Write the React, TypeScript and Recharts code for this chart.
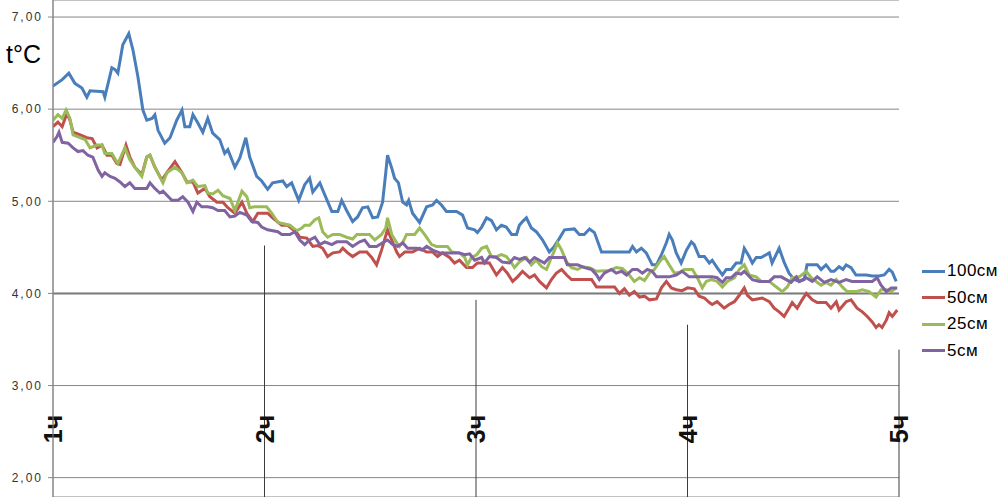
import React from "react";
import { LineChart, Line, XAxis, YAxis, CartesianGrid, ReferenceLine } from "recharts";

// --- Data (time in minutes from the 1ч mark, temperature in °C) ---

const SERIES_NAMES = ["100см", "50см", "25см", "5см"];
const SERIES_COLORS = ["#4A7EBB", "#C0504D", "#9BBB59", "#8064A2"];

const HOUR_TICKS = [0, 60, 120, 180, 240];
const HOUR_LABELS = ["1ч", "2ч", "3ч", "4ч", "5ч"];
// where each hand-drawn hour marker starts (°C level); 1ч is the axis itself
const HOUR_MARK_TOPS = [7.185, 4.52, 3.93, 3.66, 3.39];

const Y_TICKS = [2, 3, 4, 5, 6, 7];
const Y_MIN = 1.79;
const Y_MAX = 7.185;

const BLUE_T = [0,2.6,4.5,6.2,8.2,9.6,10.5,14.2,14.7,16.7,17.6,18.4,19.8,21.5,22.7,24.1,25.5,26.6,28.1,28.9,29.8,31.7,33.2,35.1,36.6,37.4,38.8,39.7,41.1,42.5,43.9,45.3,47.3,48.7,49.6,51.6,53.0,54.7,55.8,57.8,59.2,60.9,62.3,65.2,66.3,67.7,69.7,71.4,72.8,73.7,75.7,77.1,79.1,80.8,81.9,83.3,85.0,86.4,87.8,89.3,90.7,92.1,93.5,94.4,94.9,96.1,96.9,98.0,99.2,100.3,100.9,102.0,104.0,106.0,107.7,108.8,110.2,111.6,114.5,116.2,117.6,119.6,120.4,121.6,123.0,124.4,125.8,127.2,128.6,130.1,131.5,132.3,133.2,134.3,135.7,137.1,138.9,140.8,142.2,143.7,145.1,147.9,149.3,150.7,152.2,153.6,155.6,157.0,163.5,164.4,165.5,166.9,168.3,170.0,171.2,172.6,174.0,174.8,175.7,176.8,178.2,179.7,181.1,181.9,183.3,184.8,186.2,187.0,188.4,189.9,191.0,192.4,193.8,195.2,196.1,197.5,198.4,199.5,200.9,202.3,203.2,204.0,206.0,207.4,208.8,210.3,211.7,213.1,213.9,216.8,217.9,219.3,220.7,221.6,223.0,224.1,225.0,226.4,227.8,230.7,232.4,234.3,235.8,237.2,238.1,239.2];
const BLUE_V = [6.25,6.32,6.39,6.28,6.23,6.13,6.20,6.19,6.13,6.45,6.43,6.39,6.70,6.82,6.64,6.35,5.99,5.88,5.90,5.94,5.77,5.63,5.69,5.88,5.99,5.81,5.81,5.94,5.85,5.75,5.90,5.74,5.67,5.52,5.56,5.37,5.47,5.69,5.48,5.27,5.22,5.13,5.20,5.22,5.16,5.20,5.01,5.18,5.25,5.10,5.20,5.07,4.89,4.89,5.01,4.90,4.78,4.83,4.93,4.94,4.82,4.83,4.99,5.31,5.50,5.36,5.25,5.20,4.99,4.96,5.01,4.87,4.77,4.94,4.96,5.01,4.96,4.89,4.89,4.85,4.71,4.69,4.66,4.72,4.82,4.79,4.69,4.74,4.72,4.64,4.64,4.74,4.78,4.82,4.71,4.67,4.58,4.45,4.51,4.60,4.69,4.70,4.64,4.64,4.70,4.66,4.45,4.45,4.45,4.51,4.45,4.49,4.44,4.31,4.31,4.42,4.55,4.64,4.58,4.44,4.33,4.47,4.56,4.53,4.40,4.40,4.33,4.36,4.28,4.20,4.26,4.26,4.33,4.33,4.49,4.40,4.33,4.39,4.39,4.42,4.44,4.33,4.49,4.34,4.22,4.15,4.13,4.15,4.31,4.31,4.26,4.31,4.24,4.24,4.29,4.26,4.31,4.28,4.20,4.20,4.19,4.19,4.20,4.26,4.23,4.13];

const RED_T = [0,1.4,2.6,4.0,4.8,5.7,7.7,9.6,11.1,12.5,13.9,15.3,16.7,18.1,19.0,20.7,21.8,23.2,25.2,26.6,27.5,28.9,30.9,32.3,34.6,36.6,38.0,39.7,41.1,43.1,44.5,46.5,48.2,49.6,51.6,53.6,55.0,56.7,58.1,60.9,62.3,64.9,66.6,69.1,70.0,72.0,73.7,75.1,76.5,77.9,79.4,81.3,82.2,83.6,85.0,87.0,89.0,90.4,91.8,93.2,94.9,96.1,97.5,98.3,99.8,102.0,104.0,106.0,107.7,109.1,110.5,112.5,113.9,115.3,117.3,119.0,120.4,121.9,123.8,125.8,127.5,128.9,130.4,131.8,133.2,135.2,136.6,138.0,140.0,141.4,142.8,144.3,145.7,147.1,152.8,154.2,159.3,160.7,162.1,163.5,164.9,166.4,167.8,169.2,171.2,172.6,174.0,175.4,176.8,178.5,180.0,181.9,183.3,184.8,186.2,187.0,188.4,190.4,191.8,193.3,194.7,196.1,197.0,198.4,199.8,201.2,203.2,204.6,206.0,207.4,208.8,209.7,211.1,212.5,213.7,215.4,216.8,219.3,220.7,222.2,223.0,225.0,226.4,228.1,229.6,231.0,232.4,233.5,234.3,235.2,236.4,237.2,238.1,239.5];
const RED_V = [5.81,5.86,5.81,5.96,5.88,5.75,5.72,5.69,5.68,5.58,5.61,5.50,5.50,5.41,5.40,5.61,5.48,5.37,5.29,5.48,5.50,5.37,5.23,5.31,5.43,5.31,5.21,5.21,5.09,5.14,5.05,4.99,4.99,4.93,4.87,4.99,4.87,4.78,4.87,4.87,4.82,4.74,4.74,4.66,4.61,4.60,4.51,4.52,4.49,4.40,4.44,4.45,4.49,4.44,4.40,4.45,4.45,4.39,4.31,4.47,4.69,4.58,4.45,4.40,4.45,4.45,4.49,4.45,4.45,4.40,4.44,4.39,4.33,4.36,4.28,4.28,4.33,4.33,4.33,4.20,4.28,4.22,4.13,4.18,4.24,4.17,4.20,4.13,4.06,4.15,4.22,4.26,4.20,4.15,4.15,4.07,4.07,4.00,4.05,3.98,4.02,3.96,3.97,3.93,3.94,4.06,4.13,4.06,4.04,4.03,4.06,4.05,3.97,3.95,3.90,3.88,3.91,3.84,3.88,3.91,3.98,4.06,3.98,3.93,3.94,3.95,3.91,3.84,3.80,3.75,3.84,3.90,3.84,3.93,4.00,3.93,3.90,3.90,3.84,3.91,3.82,3.91,3.93,3.84,3.80,3.75,3.69,3.63,3.66,3.63,3.71,3.79,3.75,3.82];

const GREEN_T = [0,1.4,2.6,3.7,4.8,5.7,7.7,9.1,10.5,12.5,13.9,14.7,16.7,18.4,20.4,21.8,23.2,25.2,26.6,27.5,28.9,31.2,32.3,34.6,36.6,38.0,39.7,41.1,43.1,43.9,45.3,46.8,48.2,50.2,51.6,53.6,55.0,55.8,57.2,59.5,60.6,62.1,63.8,67.2,69.1,70.6,71.4,72.8,74.3,75.4,76.5,77.9,79.4,81.3,83.3,85.0,86.2,88.4,89.8,91.3,93.2,94.4,94.9,96.1,97.5,98.3,99.2,100.3,102.6,104.0,105.4,107.4,108.8,111.9,113.1,115.3,116.8,117.6,118.7,120.2,121.6,123.0,124.4,125.8,127.2,128.6,130.1,130.9,132.3,134.3,135.7,137.1,138.6,140.0,141.4,142.3,143.1,144.3,145.7,147.1,148.8,150.2,152.2,154.2,157.9,159.8,161.5,163.5,164.9,166.4,167.8,169.2,170.6,172.0,173.4,174.8,176.3,177.7,179.1,181.4,182.8,184.2,185.3,186.8,188.4,189.9,191.3,193.3,194.7,196.1,197.5,199.5,200.9,203.2,205.2,206.9,208.3,209.7,211.7,213.7,215.1,216.5,217.9,219.3,220.7,222.2,223.9,225.3,227.8,229.6,231.5,233.5,234.9,236.4,237.8,239.2];
const GREEN_V = [5.88,5.94,5.90,5.99,5.90,5.72,5.69,5.67,5.58,5.61,5.61,5.52,5.52,5.41,5.58,5.45,5.37,5.27,5.48,5.50,5.37,5.20,5.31,5.37,5.31,5.20,5.23,5.16,5.17,5.09,5.08,5.12,5.06,5.03,4.90,5.11,5.05,4.93,4.94,4.94,4.94,4.87,4.77,4.74,4.68,4.71,4.74,4.74,4.80,4.82,4.67,4.61,4.64,4.64,4.61,4.59,4.64,4.64,4.64,4.58,4.64,4.71,4.82,4.64,4.55,4.51,4.55,4.64,4.64,4.71,4.64,4.53,4.51,4.51,4.45,4.44,4.39,4.31,4.39,4.42,4.49,4.51,4.40,4.40,4.42,4.40,4.33,4.28,4.34,4.39,4.31,4.36,4.29,4.26,4.39,4.47,4.55,4.47,4.34,4.28,4.26,4.29,4.28,4.24,4.25,4.28,4.27,4.20,4.13,4.17,4.14,4.22,4.26,4.34,4.40,4.31,4.22,4.23,4.26,4.26,4.17,4.06,4.13,4.15,4.13,4.07,4.13,4.17,4.26,4.31,4.20,4.18,4.13,4.13,4.07,4.02,4.07,4.17,4.18,4.24,4.17,4.13,4.09,4.12,4.09,4.15,4.07,4.02,4.02,4.04,4.02,3.96,4.04,4.04,4.02,4.06];

const PURPLE_T = [0,1.1,1.7,2.6,4.3,5.7,7.1,8.5,9.9,11.3,12.8,13.9,14.7,16.2,17.6,19.0,20.4,21.8,23.2,26.6,27.5,28.9,30.3,31.2,33.7,35.4,36.8,38.3,39.7,40.8,42.2,43.9,45.3,46.8,48.7,50.2,51.6,53.0,55.0,56.4,58.1,59.2,60.9,63.8,64.9,67.2,68.6,70.0,71.4,72.8,74.3,75.7,77.1,79.1,80.5,83.3,85.0,87.0,88.4,89.8,91.8,93.5,94.9,96.4,97.8,99.2,100.6,103.2,104.6,106.0,107.7,109.7,115.3,116.8,118.2,119.6,121.6,122.4,123.8,125.8,127.5,129.5,130.9,132.3,133.8,135.2,136.6,138.0,139.4,140.8,145.1,145.9,148.8,150.8,152.8,154.2,155.0,156.4,158.4,159.8,161.3,162.7,164.4,165.8,167.2,168.6,170.0,171.2,174.8,176.8,178.5,180.5,187.0,188.4,189.9,191.0,192.4,193.8,195.2,196.1,198.4,200.4,203.2,204.6,206.6,208.0,209.4,210.9,211.7,213.7,215.4,216.8,218.8,220.7,223.0,225.0,226.7,230.7,232.4,233.8,234.9,236.4,237.8,239.5];
const PURPLE_V = [5.64,5.70,5.75,5.64,5.63,5.58,5.54,5.55,5.50,5.48,5.34,5.27,5.31,5.27,5.25,5.21,5.16,5.20,5.14,5.14,5.20,5.14,5.09,5.11,5.01,5.01,5.05,4.99,4.89,4.99,4.94,4.94,4.93,4.90,4.90,4.83,4.84,4.88,4.85,4.78,4.77,4.72,4.69,4.67,4.64,4.64,4.67,4.58,4.53,4.58,4.61,4.53,4.56,4.53,4.56,4.56,4.51,4.56,4.58,4.51,4.51,4.55,4.58,4.53,4.51,4.55,4.49,4.49,4.47,4.51,4.47,4.44,4.44,4.42,4.43,4.36,4.39,4.33,4.40,4.39,4.34,4.33,4.39,4.37,4.39,4.34,4.39,4.36,4.33,4.39,4.39,4.31,4.31,4.28,4.26,4.20,4.15,4.22,4.26,4.22,4.24,4.20,4.26,4.26,4.22,4.26,4.24,4.18,4.18,4.20,4.24,4.18,4.18,4.17,4.12,4.17,4.17,4.22,4.21,4.24,4.15,4.13,4.13,4.18,4.18,4.15,4.12,4.18,4.13,4.17,4.13,4.18,4.12,4.15,4.12,4.15,4.13,4.13,4.13,4.17,4.09,4.02,4.06,4.06];

const SERIES_T = [BLUE_T, RED_T, GREEN_T, PURPLE_T];
const SERIES_V = [BLUE_V, RED_V, GREEN_V, PURPLE_V];


// --- Constants ---

const WIDTH = 997;
const HEIGHT = 497;
const FONT = "'Liberation Sans', Arial, sans-serif";
const GRID_COLOR = "#868686";
const MARK_COLOR = "#3c3c3c";
const HOUR_LABEL_Y = 429;


function toPoints(ts: number[], vs: number[])
{
    return ts.map((t, i) => ({ t, v: vs[i] }));
}

function formatTemp(v: number)
{
    return v.toFixed(2).replace(".", ",");
}


// --- Hour labels (rotated, near the bottom edge) ---

function renderHourLabel(text: string)
{
    return (props: any) =>
    {
        const x = props.viewBox?.x ?? 0;
        return (
            <text
                transform={`translate(${x},${HOUR_LABEL_Y}) rotate(-90)`}
                textAnchor="middle"
                dominantBaseline="central"
                fontFamily={FONT}
                fontWeight="bold"
                fontSize={25}
                fill="#111"
            >
                {text}
            </text>
        );
    };
}


// --- Component ---

export default function App()
{
    return (
        <div style={{ position: "absolute", left: 0, top: 0, width: WIDTH, height: HEIGHT, background: "#fff", fontFamily: FONT }}>
            <LineChart width={WIDTH} height={HEIGHT} margin={{ top: 0, right: 98, bottom: 0, left: 0 }}>
                <CartesianGrid vertical={false} stroke={GRID_COLOR} />
                <XAxis type="number" dataKey="t" domain={[0, 240]} hide allowDataOverflow />
                <YAxis
                    type="number"
                    domain={[Y_MIN, Y_MAX]}
                    ticks={Y_TICKS}
                    width={53}
                    tickFormatter={formatTemp}
                    axisLine={{ stroke: GRID_COLOR }}
                    tickLine={{ stroke: GRID_COLOR }}
                    tickSize={5}
                    tickMargin={5}
                    tick={{ fontSize: 12, fill: "#333", fontFamily: FONT, letterSpacing: 2 }}
                    allowDataOverflow
                />
                <ReferenceLine y={4} stroke="#7a7a7a" strokeWidth={2} />
                {HOUR_TICKS.map((h, i) => (
                    <ReferenceLine
                        key={h}
                        segment={[{ x: h, y: HOUR_MARK_TOPS[i] }, { x: h, y: Y_MIN }]}
                        stroke={i === 0 ? GRID_COLOR : MARK_COLOR}
                        label={{ content: renderHourLabel(HOUR_LABELS[i]) }}
                    />
                ))}
                {SERIES_NAMES.map((name, i) => (
                    <Line
                        key={name}
                        data={toPoints(SERIES_T[i], SERIES_V[i])}
                        dataKey="v"
                        name={name}
                        type="linear"
                        stroke={SERIES_COLORS[i]}
                        strokeWidth={3}
                        dot={false}
                        isAnimationActive={false}
                    />
                ))}
            </LineChart>

            <div style={{ position: "absolute", left: 6, top: 40, fontSize: 25, color: "#000" }}>t°C</div>

            <div style={{ position: "absolute", left: 922, top: 258 }}>
                {SERIES_NAMES.map((name, i) => (
                    <div key={name} style={{ display: "flex", alignItems: "center", height: 26.5 }}>
                        <span style={{ display: "inline-block", width: 23, height: 3, background: SERIES_COLORS[i], marginRight: 2 }} />
                        <span style={{ fontSize: 17, letterSpacing: 0.5, color: "#000" }}>{name}</span>
                    </div>
                ))}
            </div>
        </div>
    );
}
